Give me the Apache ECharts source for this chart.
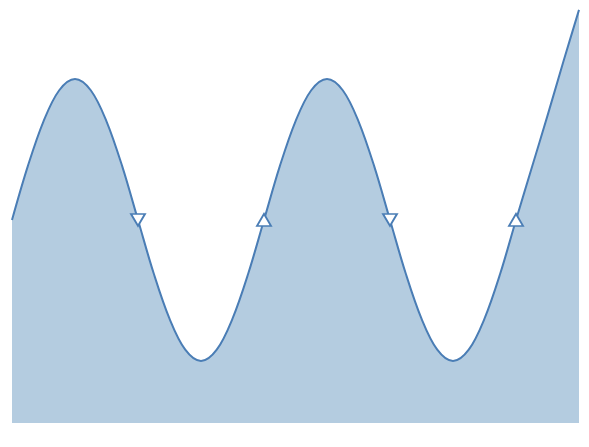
<!DOCTYPE html>
<html><head><meta charset="utf-8">
<script src="https://cdn.jsdelivr.net/npm/echarts@6/dist/echarts.min.js"></script>
<style>html,body{margin:0;padding:0;background:#fff}#c{width:589px;height:447px}</style>
</head><body><div id="c"></div>
<script>
const categories = ['0','1','2','3','4','5','6','7','8','9','10','11','12','13','14','15','16','17','18',
  '19','20','21','22','23','24','25','26','27','28','29','30','31','32','33','34','35','36'];
const values = [
  0, 0.38, 0.7, 0.92, 1, 0.92, 0.7, 0.38,
  0, -0.38, -0.7, -0.92, -1, -0.92, -0.7, -0.38,
  0, 0.38, 0.7, 0.92, 1, 0.92, 0.7, 0.38,
  0, -0.38, -0.7, -0.92, -1, -0.92, -0.7, -0.38,
  0, 0.37, 0.74, 1.12, 1.49
];
const markerIndex = [8, 16, 24, 32];

const chart = echarts.init(document.getElementById('c'));
const data = values.map((v, i) => {
  if (markerIndex.indexOf(i) < 0) return { value: v, symbol: 'none' };
  const falling = values[i + 1] < values[i - 1];
  return { value: v, symbol: 'triangle', symbolRotate: falling ? 180 : 0 };
});
chart.setOption({
  animation: false,
  grid: { left: 12, right: 10, top: 8.5, bottom: 24 },
  xAxis: { type: 'category', data: categories, boundaryGap: false, show: false },
  yAxis: { type: 'value', min: -1.44, max: 1.5, show: false },
  series: [{
    type: 'line',
    data: data,
    smooth: 0.35,
    showAllSymbol: true,
    symbolSize: [14, 12],
    lineStyle: { color: '#4a7db5', width: 2 },
    itemStyle: { color: '#ffffff', borderColor: '#4a7db5', borderWidth: 1.8 },
    areaStyle: { color: '#b4cce0', opacity: 1, origin: 'start' }
  }]
});
</script></body></html>
